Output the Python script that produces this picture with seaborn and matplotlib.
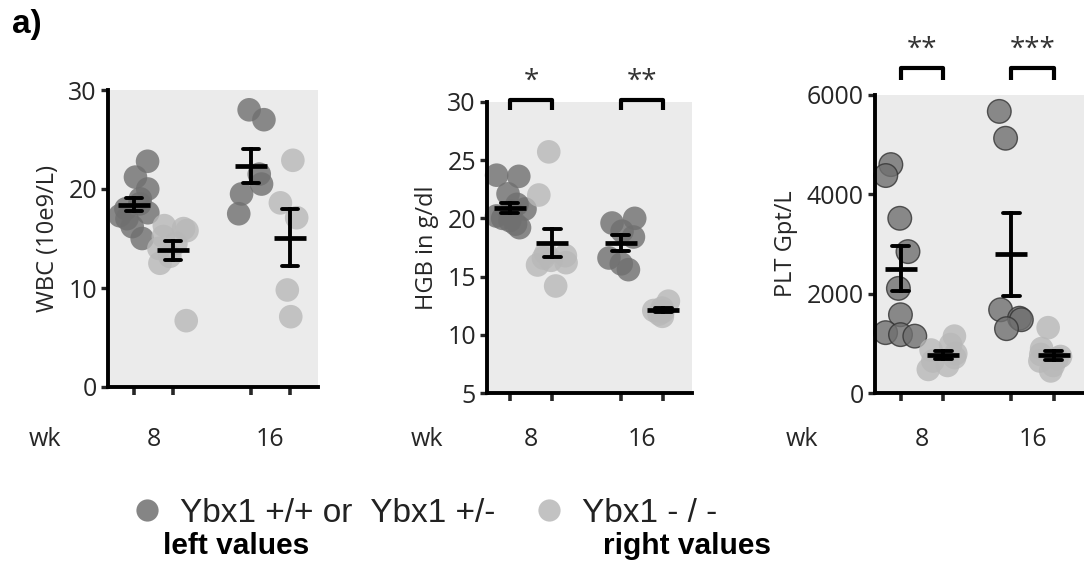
import numpy as np
import pandas as pd
import matplotlib
matplotlib.use("Agg")
import matplotlib.pyplot as plt
import matplotlib.transforms as mtransforms
from matplotlib import font_manager
from matplotlib.lines import Line2D
import seaborn as sns

# ---------------- data ----------------
weeks = ["8", "16"]
genotypes = ["Ybx1 +/+ or  Ybx1 +/-", "Ybx1 - / -"]

wbc_wt_8wk = [22.8, 21.2, 20.0, 19.0, 18.5, 18.0, 17.6, 17.3, 17.0, 16.2, 15.0]
wbc_ko_8wk = [16.3, 16.0, 15.8, 15.2, 14.5, 14.0, 13.2, 12.5, 6.7]
wbc_wt_16wk = [28.0, 27.0, 21.5, 20.5, 19.5, 17.5]
wbc_ko_16wk = [22.9, 18.6, 17.1, 9.8, 7.1]

hgb_wt_8wk = [23.7, 23.6, 22.1, 21.2, 20.8, 20.6, 20.4, 20.2, 20.0, 19.8, 19.5, 19.2]
hgb_ko_8wk = [25.7, 22.0, 17.0, 16.8, 16.6, 16.4, 16.2, 16.0, 14.2]
hgb_wt_16wk = [20.0, 19.6, 18.9, 18.4, 16.6, 16.1, 15.6]
hgb_ko_16wk = [12.9, 12.3, 12.1, 12.0, 11.8, 11.6]

plt_wt_8wk = [4600, 4380, 3520, 2850, 2110, 1580, 1220, 1180, 1150]
plt_ko_8wk = [1150, 980, 870, 800, 720, 650, 560, 480]
plt_wt_16wk = [5670, 5130, 1680, 1510, 1480, 1300]
plt_ko_16wk = [1320, 900, 780, 740, 700, 650, 560, 450]

ylabels = ["WBC (10e9/L)", "HGB in g/dl", "PLT Gpt/L"]
wbc_ticks = [0, 10, 20, 30]
hgb_ticks = [5, 10, 15, 20, 25, 30]
plt_ticks = [0, 2000, 4000, 6000]
hgb_stars = ["*", "**"]
plt_stars = ["**", "***"]
week_axis_label = "wk"
bottom_labels = ["left values", "right values"]
panel_tag = "a)"

# ---------------- style ----------------
W, H, DPI = 1084, 588, 100
sns.set_theme(style="ticks")
plt.rcParams["font.family"] = ["Open Sans", "DejaVu Sans"]
avail = {f.name for f in font_manager.fontManager.ttflist}
narrow = "Liberation Sans Narrow" in avail
bold_family = ["Liberation Sans Narrow"] if narrow else ["Liberation Sans"]
bold_size = 24 if narrow else 21.5

bg = "#ebebeb"
wt_color = "#707070"
ko_color = "#b8b8b8"
palette = {genotypes[0]: wt_color, genotypes[1]: ko_color}
text_color = "#262626"


def build(groups, gap):
    rows = []
    for wi, wk in enumerate(weeks):
        for gi, g in enumerate(genotypes):
            for v in groups[wi][gi]:
                rows.append({"week": wk, "geno": g, "value": v,
                             "pos": wi * (1 + gap) + gi})
    return pd.DataFrame(rows)


panels = [
    dict(groups=[[wbc_wt_8wk, wbc_ko_8wk], [wbc_wt_16wk, wbc_ko_16wk]],
         ylabel=ylabels[0], yticks=wbc_ticks, gap=2.0,
         rect=(108, 90, 318, 387), xlim=(-0.67, 4.72), wk_x=45,
         stars=None, seed=4, edges=False),
    dict(groups=[[hgb_wt_8wk, hgb_ko_8wk], [hgb_wt_16wk, hgb_ko_16wk]],
         ylabel=ylabels[1], yticks=hgb_ticks, gap=1.6,
         rect=(487, 101.7, 692, 393.3), xlim=(-0.54, 4.28), wk_x=427,
         stars=hgb_stars, br=(1.7, -8.3, 20.0), seed=7, edges=False),
    dict(groups=[[plt_wt_8wk, plt_ko_8wk], [plt_wt_16wk, plt_ko_16wk]],
         ylabel=ylabels[2], yticks=plt_ticks, gap=1.6,
         rect=(875, 95, 1084, 393.3), xlim=(-0.61, 4.31), wk_x=802,
         stars=plt_stars, br=(27, 15, 45), seed=11, edges=True),
]

fig = plt.figure(figsize=(W / DPI, H / DPI), dpi=DPI)
label_y = 1 - 437 / H

for p in panels:
    l, t, r, b = p["rect"]
    ax = fig.add_axes([l / W, 1 - b / H, (r - l) / W, (b - t) / H])
    ax.set_facecolor(bg)
    df = build(p["groups"], p["gap"])

    np.random.seed(p["seed"])
    sns.stripplot(data=df, x="pos", y="value", hue="geno", palette=palette,
                  hue_order=genotypes, native_scale=True, jitter=0.37,
                  size=17, linewidth=0, alpha=0.8, legend=False, ax=ax,
                  clip_on=False, zorder=1)
    if p["edges"]:
        wt_rgb = matplotlib.colors.to_rgb(wt_color)
        for coll in ax.collections:
            fc = coll.get_facecolors()
            if len(fc) == 0:
                continue
            ec = [(0.2, 0.2, 0.2, 0.9) if abs(f[0] - wt_rgb[0]) < 0.03 else (0, 0, 0, 0)
                  for f in fc]
            coll.set_edgecolors(ec)
            coll.set_linewidths(1.0)

    sns.pointplot(data=df, x="pos", y="value", native_scale=True,
                  errorbar="se", capsize=0.4, color="black", markers="_",
                  linestyle="none", markersize=23, markeredgewidth=3.4,
                  err_kws={"linewidth": 2.8}, ax=ax)

    ax.set_xlim(*p["xlim"])
    ax.set_ylim(p["yticks"][0], p["yticks"][-1])
    ax.set_yticks(p["yticks"])
    ax.set_yticklabels([str(v) for v in p["yticks"]])
    positions = sorted(df["pos"].unique())
    ax.set_xticks(positions)
    ax.set_xticklabels([])
    ax.set_xlabel("")
    ax.set_ylabel(p["ylabel"], fontsize=17, color=text_color, labelpad=6)
    for side in ["top", "right"]:
        ax.spines[side].set_visible(False)
    for side in ["left", "bottom"]:
        ax.spines[side].set_linewidth(2.8)
        ax.spines[side].set_color("black")
    ax.tick_params(axis="y", direction="out", length=5, width=2.4,
                   labelsize=18, labelcolor=text_color, pad=3)
    ax.tick_params(axis="x", direction="out", length=6, width=2.6)

    trans_lab = mtransforms.blended_transform_factory(ax.transData, fig.transFigure)
    for wi, wk in enumerate(weeks):
        mid = wi * (1 + p["gap"]) + 0.5
        ax.text(mid, label_y, wk, transform=trans_lab, ha="center",
                va="center_baseline", fontsize=18, color=text_color)
    fig.text(p["wk_x"] / W, label_y, week_axis_label, ha="center",
             va="center_baseline", fontsize=18, color=text_color)

    if p["stars"]:
        hpx = b - t
        top_off, foot_off, star_off = p["br"]
        trans_br = mtransforms.blended_transform_factory(ax.transData, ax.transAxes)
        for wi, s in enumerate(p["stars"]):
            x0 = wi * (1 + p["gap"])
            x1 = x0 + 1
            yt = 1 + top_off / hpx
            yf = 1 + foot_off / hpx
            ax.plot([x0, x0, x1, x1], [yf, yt, yt, yf], transform=trans_br,
                    color="black", lw=3, clip_on=False, solid_joinstyle="round",
                    solid_capstyle="butt")
            ax.text((x0 + x1) / 2, 1 + star_off / hpx, s, transform=trans_br,
                    ha="center", va="center", fontsize=20, color="#333333")

handles = [Line2D([0], [0], marker="o", ls="none", markersize=16,
                  markerfacecolor=c, markeredgewidth=0, alpha=0.85)
           for c in [wt_color, ko_color]]
fig.legend(handles, genotypes, loc="center left",
           bbox_to_anchor=(130 / W, 1 - 513 / H), ncol=2, frameon=False,
           prop={"family": "Liberation Sans", "size": 24},
           handlelength=1.0, handletextpad=0.5, columnspacing=1.1,
           borderpad=0, borderaxespad=0, labelcolor="#222222")

fig.text(163 / W, 1 - 546 / H, bottom_labels[0], ha="left", va="center",
         weight="bold", family=bold_family, size=bold_size, color="black")
fig.text(603 / W, 1 - 546 / H, bottom_labels[1], ha="left", va="center",
         weight="bold", family=bold_family, size=bold_size, color="black")
fig.text(12 / W, 1 - 24 / H, panel_tag, ha="left", va="center",
         weight="bold", family=["Liberation Sans"], size=24, color="black")

fig.savefig("out.png", dpi=DPI)
